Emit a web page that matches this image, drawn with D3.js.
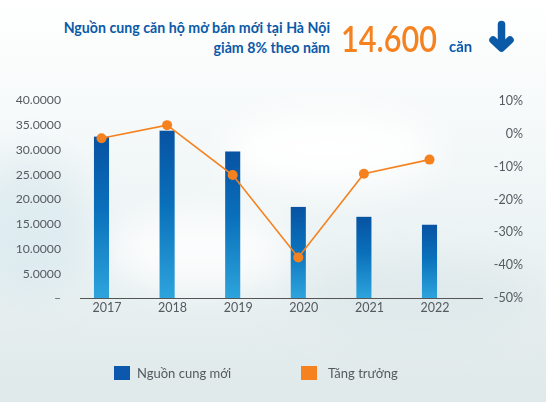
<!DOCTYPE html>
<html>
<head>
<meta charset="utf-8">
<script src="https://cdn.jsdelivr.net/npm/d3@7"></script>
<style>
  html, body { margin: 0; padding: 0; background: #fff; }
  svg { display: block; }
  text { font-family: Lato, "Open Sans", sans-serif; }
</style>
</head>
<body>
<script>
// chart data
var years    = ['2017', '2018', '2019', '2020', '2021', '2022'],
    supply   = [32.6, 33.8, 29.6, 18.4, 16.4, 14.8],   // nghìn căn
    growth   = [-1.5, 2.5, -12.7, -37.8, -12.3, -8],    // %
    leftTicks  = [0, 5, 10, 15, 20, 25, 30, 35, 40],
    rightTicks = [10, 0, -10, -20, -30, -40, -50],
    titleLines = ['Nguồn cung căn hộ mở bán mới tại Hà Nội', 'giảm 8% theo năm'],
    bigNumber  = '14.600',
    unitLabel  = 'căn',
    legendLabels = ['Nguồn cung mới', 'Tăng trưởng'];

var width  = 546,
    height = 402,
    blue   = '#0b5aa8',
    orange = '#f5821f',
    grey   = '#555a60';

var svg = d3.select('body').append('svg')
    .attr('width', width)
    .attr('height', height);

var defs = svg.append('defs');

// sky background
var bg = defs.append('linearGradient').attr('id', 'bg')
    .attr('x1', 0).attr('y1', 0).attr('x2', 0).attr('y2', 1);
bg.append('stop').attr('offset', '0%').attr('stop-color', '#ffffff');
bg.append('stop').attr('offset', '22%').attr('stop-color', '#f8fbfb');
bg.append('stop').attr('offset', '60%').attr('stop-color', '#ecf3f4');
bg.append('stop').attr('offset', '100%').attr('stop-color', '#dfe9ea');

var barGrad = defs.append('linearGradient').attr('id', 'bar')
    .attr('x1', 0).attr('y1', 0).attr('x2', 0).attr('y2', 1);
barGrad.append('stop').attr('offset', '0%').attr('stop-color', '#0753a2');
barGrad.append('stop').attr('offset', '45%').attr('stop-color', '#0a70bb');
barGrad.append('stop').attr('offset', '100%').attr('stop-color', '#2da4dc');

defs.append('filter').attr('id', 'blur')
    .attr('x', '-50%').attr('y', '-50%').attr('width', '200%').attr('height', '200%')
    .append('feGaussianBlur').attr('stdDeviation', 18);

svg.append('rect')
    .attr('width', width).attr('height', height)
    .attr('fill', 'url(#bg)');

// soft clouds
var clouds = svg.append('g').attr('filter', 'url(#blur)');
clouds.append('ellipse').attr('cx', 30).attr('cy', 230).attr('rx', 60).attr('ry', 70)
    .attr('fill', '#d9e8ee').attr('opacity', 0.7);
clouds.append('ellipse').attr('cx', 200).attr('cy', 250).attr('rx', 90).attr('ry', 40)
    .attr('fill', '#ffffff').attr('opacity', 0.8);
clouds.append('ellipse').attr('cx', 420).attr('cy', 300).attr('rx', 120).attr('ry', 40)
    .attr('fill', '#dde8eb').attr('opacity', 0.8);
clouds.append('ellipse').attr('cx', 330).attr('cy', 150).attr('rx', 110).attr('ry', 40)
    .attr('fill', '#ffffff').attr('opacity', 0.9);

// Scales
var xScale = d3.scaleBand().domain(years).range([68.7, 462.3])
    .paddingInner(0.77).paddingOuter(0.385);
var yLeft  = d3.scaleLinear().domain([0, 40]).range([298, 100]);
var yRight = d3.scaleLinear().domain([-50, 10]).range([297.5, 100.5]);

// Title
var title = svg.append('text')
    .attr('text-anchor', 'end')
    .attr('fill', blue)
    .style('font-size', '14.2px')
    .style('font-weight', 700);
title.selectAll('tspan').data(titleLines).enter().append('tspan')
    .attr('x', 330)
    .attr('y', function(d, i) { return 33 + i * 19.5; })
    .text(function(d) { return d; });

// big number, squeezed horizontally to the reference width
var big = svg.append('text')
    .attr('fill', orange)
    .style('font-size', '37px')
    .style('font-weight', 600)
    .text(bigNumber);
var bigW = big.node().getComputedTextLength();
big.attr('transform', 'translate(341,52) scale(' + (96 / bigW) + ',1)');

svg.append('text')
    .attr('x', 449).attr('y', 52)
    .attr('fill', blue)
    .style('font-size', '15px')
    .style('font-weight', 700)
    .text(unitLabel);

// down arrow
var arrow = svg.append('g')
    .attr('stroke', blue)
    .attr('stroke-width', 7.5)
    .attr('stroke-linecap', 'round')
    .attr('stroke-linejoin', 'round')
    .attr('fill', 'none');
arrow.append('line').attr('x1', 501.5).attr('y1', 24.5).attr('x2', 501.5).attr('y2', 47);
arrow.append('polyline').attr('points', '493,40 501.5,48 510,40');

// Bars
svg.selectAll('.bar').data(years).enter().append('rect')
    .attr('class', 'bar')
    .attr('x', function(d) { return xScale(d); })
    .attr('width', xScale.bandwidth())
    .attr('y', function(d, i) { return yLeft(supply[i]); })
    .attr('height', function(d, i) { return yLeft(0) - yLeft(supply[i]); })
    .attr('fill', 'url(#bar)');

// x axis
svg.append('line')
    .attr('x1', 80).attr('x2', 483)
    .attr('y1', 298.5).attr('y2', 298.5)
    .attr('stroke', '#555')
    .attr('stroke-width', 1);

var xAxis = svg.append('g')
    .attr('transform', 'translate(5.5,' + 303 + ')')
    .call(d3.axisBottom(xScale).tickSize(0).tickPadding(0));
xAxis.select('.domain').remove();
xAxis.selectAll('text')
    .attr('fill', grey)
    .attr('dy', '0.71em')
    .style('font-family', 'Lato, sans-serif')
    .style('font-size', '12.5px');

// left axis
var leftAxis = svg.append('g')
    .attr('transform', 'translate(61,0)')
    .call(d3.axisLeft(yLeft).tickValues(leftTicks).tickSize(0).tickPadding(0)
        .tickFormat(function(d) { return d === 0 ? '–' : d + '.0000'; }));
leftAxis.select('.domain').remove();
leftAxis.selectAll('text')
    .attr('fill', grey)
    .style('font-family', 'Lato, sans-serif')
    .style('font-size', '12.2px');

// right axis
var rightAxis = svg.append('g')
    .attr('transform', 'translate(523,0)')
    .call(d3.axisLeft(yRight).tickValues(rightTicks).tickSize(0).tickPadding(0)
        .tickFormat(function(d) { return d + '%'; }));
rightAxis.select('.domain').remove();
rightAxis.selectAll('text')
    .attr('fill', grey)
    .style('font-family', 'Lato, sans-serif')
    .style('font-size', '12.5px');

// growth line
var line = d3.line()
    .x(function(d, i) { return xScale(years[i]) + xScale.bandwidth() / 2; })
    .y(function(d) { return yRight(d); });

svg.append('path')
    .datum(growth)
    .attr('d', line)
    .attr('fill', 'none')
    .attr('stroke', orange)
    .attr('stroke-width', 1.6);

svg.selectAll('.dot').data(growth).enter().append('circle')
    .attr('class', 'dot')
    .attr('cx', function(d, i) { return xScale(years[i]) + xScale.bandwidth() / 2; })
    .attr('cy', function(d) { return yRight(d); })
    .attr('r', 5)
    .attr('fill', orange);

// legend
var legend = svg.selectAll('.legend').data(legendLabels).enter().append('g')
    .attr('class', 'legend')
    .attr('transform', function(d, i) { return 'translate(' + (i === 0 ? 114 : 301) + ',366)'; });
legend.append('rect')
    .attr('width', 16).attr('height', 14)
    .attr('fill', function(d, i) { return i === 0 ? '#0b58ac' : orange; });
legend.append('text')
    .attr('x', function(d, i) { return i === 0 ? 23 : 27; })
    .attr('y', 12)
    .attr('fill', grey)
    .style('font-size', '13px')
    .text(function(d) { return d; });
</script>
</body>
</html>
